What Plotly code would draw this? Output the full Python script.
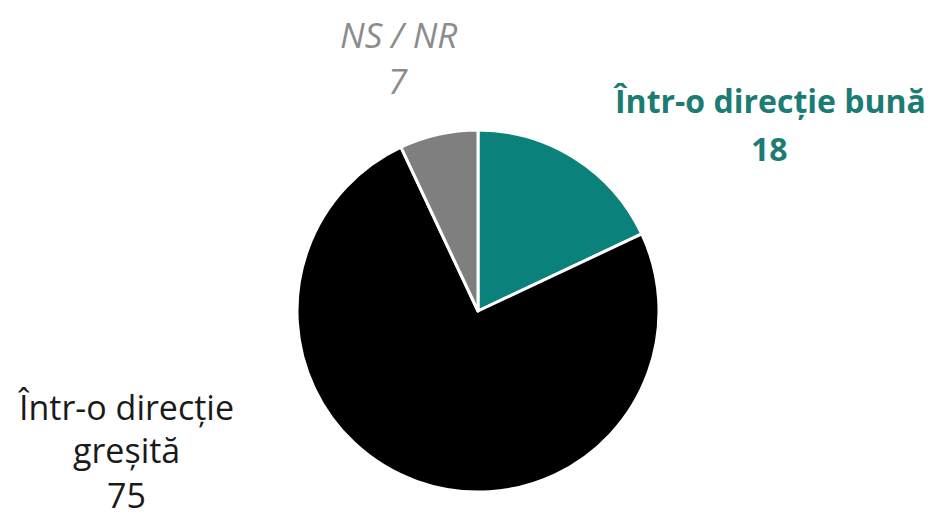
import plotly.graph_objects as go

labels = ["Într-o direcție bună", "Într-o direcție greșită", "NS / NR"]
values = [18, 75, 7]
colors = ["#0b817c", "#000000", "#7f7f7f"]

# page body has an 8px default margin; size the figure to fit the window
OFF = 8
W, H = 937 - OFF, 520 - OFF
cx, cy, r = 478 - OFF, 311 - OFF, 181

fig = go.Figure(go.Pie(
    labels=labels, values=values, sort=False, direction="clockwise", rotation=0,
    marker=dict(colors=colors, line=dict(color="white", width=3)),
    textinfo="none", hoverinfo="label+value", showlegend=False,
    domain=dict(x=[(cx - r) / W, (cx + r) / W], y=[1 - (cy + r) / H, 1 - (cy - r) / H]),
))

font = "'Open Sans', sans-serif"
# (x px, y px, text, color, size) in window pixels
lines = [
    (769, 100, f"<b>{labels[0]}</b>", "#1b7c74", 32),
    (769, 148, f"<b>{values[0]}</b>", "#1b7c74", 32),
    (126, 407, "Într-o direcție", "#1a1a1a", 34),
    (126, 450, "greșită", "#1a1a1a", 34),
    (398, 34, f"<i>{labels[2]}</i>", "#8c8c8c", 35),
    (398, 80, f"<i>{values[2]}</i>", "#8c8c8c", 35),
]
for x, y, t, c, s in lines:
    fig.add_annotation(xref="paper", yref="paper", showarrow=False, align="center",
                       xanchor="center", yanchor="middle", x=(x - OFF) / W, y=1 - (y - OFF) / H,
                       text=t, font=dict(size=s, color=c, family=font))
fig.add_annotation(xref="paper", yref="paper", showarrow=False, align="center",
                   xanchor="center", yanchor="bottom", x=(126 - OFF) / W, y=0,
                   text=f"{values[1]}", font=dict(size=34, color="#1a1a1a", family=font))

fig.update_layout(width=W, height=H, margin=dict(l=0, r=0, t=0, b=0),
                  paper_bgcolor="white", plot_bgcolor="white")
fig.write_html("out.html")
